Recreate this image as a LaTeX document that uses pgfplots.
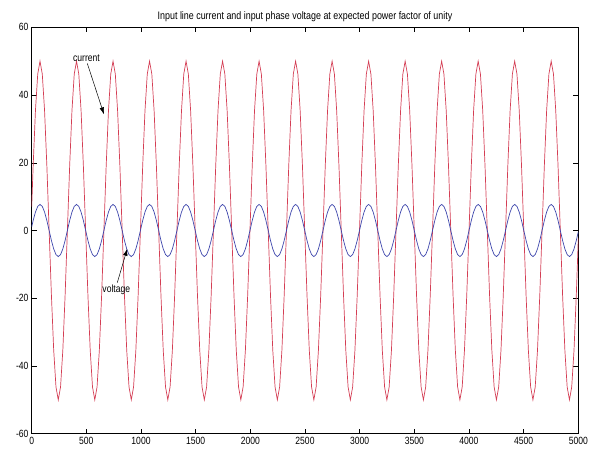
\documentclass[border=0pt]{standalone}
\usepackage{pgfplots}
\pgfplotsset{compat=1.18}
\usepackage{pgfplotstable}
\usepackage{fontspec}
\setmainfont{Liberation Sans}[FakeStretch=0.82]
\usetikzlibrary{arrows.meta}
\definecolor{cur}{RGB}{212,62,84}
\definecolor{vol}{RGB}{62,70,172}

\pgfplotstableread{
x i v
0 7.05 1.08
13.375 19.13 2.95
34.25 35.36 5.44
55.125 46.19 7.11
76 50 7.7
96.875 46.19 7.11
117.75 35.36 5.44
138.625 19.13 2.95
159.5 0 0
180.375 -19.13 -2.95
201.25 -35.36 -5.44
222.125 -46.19 -7.11
243 -50 -7.7
263.875 -46.19 -7.11
284.75 -35.36 -5.44
305.625 -19.13 -2.95
326.5 0 0
347.375 19.13 2.95
368.25 35.36 5.44
389.125 46.19 7.11
410 50 7.7
430.875 46.19 7.11
451.75 35.36 5.44
472.625 19.13 2.95
493.5 0 0
514.375 -19.13 -2.95
535.25 -35.36 -5.44
556.125 -46.19 -7.11
577 -50 -7.7
597.875 -46.19 -7.11
618.75 -35.36 -5.44
639.625 -19.13 -2.95
660.5 0 0
681.375 19.13 2.95
702.25 35.36 5.44
723.125 46.19 7.11
744 50 7.7
764.875 46.19 7.11
785.75 35.36 5.44
806.625 19.13 2.95
827.5 0 0
848.375 -19.13 -2.95
869.25 -35.36 -5.44
890.125 -46.19 -7.11
911 -50 -7.7
931.875 -46.19 -7.11
952.75 -35.36 -5.44
973.625 -19.13 -2.95
994.5 0 0
1015.375 19.13 2.95
1036.25 35.36 5.44
1057.125 46.19 7.11
1078 50 7.7
1098.875 46.19 7.11
1119.75 35.36 5.44
1140.625 19.13 2.95
1161.5 0 0
1182.375 -19.13 -2.95
1203.25 -35.36 -5.44
1224.125 -46.19 -7.11
1245 -50 -7.7
1265.875 -46.19 -7.11
1286.75 -35.36 -5.44
1307.625 -19.13 -2.95
1328.5 0 0
1349.375 19.13 2.95
1370.25 35.36 5.44
1391.125 46.19 7.11
1412 50 7.7
1432.875 46.19 7.11
1453.75 35.36 5.44
1474.625 19.13 2.95
1495.5 0 0
1516.375 -19.13 -2.95
1537.25 -35.36 -5.44
1558.125 -46.19 -7.11
1579 -50 -7.7
1599.875 -46.19 -7.11
1620.75 -35.36 -5.44
1641.625 -19.13 -2.95
1662.5 0 0
1683.375 19.13 2.95
1704.25 35.36 5.44
1725.125 46.19 7.11
1746 50 7.7
1766.875 46.19 7.11
1787.75 35.36 5.44
1808.625 19.13 2.95
1829.5 0 0
1850.375 -19.13 -2.95
1871.25 -35.36 -5.44
1892.125 -46.19 -7.11
1913 -50 -7.7
1933.875 -46.19 -7.11
1954.75 -35.36 -5.44
1975.625 -19.13 -2.95
1996.5 0 0
2017.375 19.13 2.95
2038.25 35.36 5.44
2059.125 46.19 7.11
2080 50 7.7
2100.875 46.19 7.11
2121.75 35.36 5.44
2142.625 19.13 2.95
2163.5 0 0
2184.375 -19.13 -2.95
2205.25 -35.36 -5.44
2226.125 -46.19 -7.11
2247 -50 -7.7
2267.875 -46.19 -7.11
2288.75 -35.36 -5.44
2309.625 -19.13 -2.95
2330.5 0 0
2351.375 19.13 2.95
2372.25 35.36 5.44
2393.125 46.19 7.11
2414 50 7.7
2434.875 46.19 7.11
2455.75 35.36 5.44
2476.625 19.13 2.95
2497.5 0 0
2518.375 -19.13 -2.95
2539.25 -35.36 -5.44
2560.125 -46.19 -7.11
2581 -50 -7.7
2601.875 -46.19 -7.11
2622.75 -35.36 -5.44
2643.625 -19.13 -2.95
2664.5 0 0
2685.375 19.13 2.95
2706.25 35.36 5.44
2727.125 46.19 7.11
2748 50 7.7
2768.875 46.19 7.11
2789.75 35.36 5.44
2810.625 19.13 2.95
2831.5 0 0
2852.375 -19.13 -2.95
2873.25 -35.36 -5.44
2894.125 -46.19 -7.11
2915 -50 -7.7
2935.875 -46.19 -7.11
2956.75 -35.36 -5.44
2977.625 -19.13 -2.95
2998.5 0 0
3019.375 19.13 2.95
3040.25 35.36 5.44
3061.125 46.19 7.11
3082 50 7.7
3102.875 46.19 7.11
3123.75 35.36 5.44
3144.625 19.13 2.95
3165.5 0 0
3186.375 -19.13 -2.95
3207.25 -35.36 -5.44
3228.125 -46.19 -7.11
3249 -50 -7.7
3269.875 -46.19 -7.11
3290.75 -35.36 -5.44
3311.625 -19.13 -2.95
3332.5 0 0
3353.375 19.13 2.95
3374.25 35.36 5.44
3395.125 46.19 7.11
3416 50 7.7
3436.875 46.19 7.11
3457.75 35.36 5.44
3478.625 19.13 2.95
3499.5 0 0
3520.375 -19.13 -2.95
3541.25 -35.36 -5.44
3562.125 -46.19 -7.11
3583 -50 -7.7
3603.875 -46.19 -7.11
3624.75 -35.36 -5.44
3645.625 -19.13 -2.95
3666.5 0 0
3687.375 19.13 2.95
3708.25 35.36 5.44
3729.125 46.19 7.11
3750 50 7.7
3770.875 46.19 7.11
3791.75 35.36 5.44
3812.625 19.13 2.95
3833.5 0 0
3854.375 -19.13 -2.95
3875.25 -35.36 -5.44
3896.125 -46.19 -7.11
3917 -50 -7.7
3937.875 -46.19 -7.11
3958.75 -35.36 -5.44
3979.625 -19.13 -2.95
4000.5 0 0
4021.375 19.13 2.95
4042.25 35.36 5.44
4063.125 46.19 7.11
4084 50 7.7
4104.875 46.19 7.11
4125.75 35.36 5.44
4146.625 19.13 2.95
4167.5 0 0
4188.375 -19.13 -2.95
4209.25 -35.36 -5.44
4230.125 -46.19 -7.11
4251 -50 -7.7
4271.875 -46.19 -7.11
4292.75 -35.36 -5.44
4313.625 -19.13 -2.95
4334.5 0 0
4355.375 19.13 2.95
4376.25 35.36 5.44
4397.125 46.19 7.11
4418 50 7.7
4438.875 46.19 7.11
4459.75 35.36 5.44
4480.625 19.13 2.95
4501.5 0 0
4522.375 -19.13 -2.95
4543.25 -35.36 -5.44
4564.125 -46.19 -7.11
4585 -50 -7.7
4605.875 -46.19 -7.11
4626.75 -35.36 -5.44
4647.625 -19.13 -2.95
4668.5 0 0
4689.375 19.13 2.95
4710.25 35.36 5.44
4731.125 46.19 7.11
4752 50 7.7
4772.875 46.19 7.11
4793.75 35.36 5.44
4814.625 19.13 2.95
4835.5 0 0
4856.375 -19.13 -2.95
4877.25 -35.36 -5.44
4898.125 -46.19 -7.11
4919 -50 -7.7
4939.875 -46.19 -7.11
4960.75 -35.36 -5.44
4981.625 -19.13 -2.95
5000 -2.36 -0.36
}\wavedata

\begin{document}
\begin{tikzpicture}
\begin{axis}[
  name=ax,
  scale only axis,
  width=546.6bp, height=406.4bp,
  xmin=0, xmax=5000, ymin=-60, ymax=60,
  xtick={0,500,...,5000},
  xticklabels={0,500,1000,1500,2000,2500,3000,3500,4000,4500,5000},
  ytick={-60,-40,...,60},
  yticklabels={-60,-40,-20,0,20,40,60},
  tick align=inside,
  major tick length=5bp,
  tick style={black, line width=0.5bp},
  axis line style={line width=0.6bp},
  ticklabel style={font=\fontsize{10.5}{12}\selectfont},
  yticklabel style={xshift=0.3bp},
  scaled ticks=false,
  clip=true,
]
\addplot[cur, line width=0.7bp] table[x=x, y=i] {\wavedata};
\addplot[vol, line width=0.7bp] table[x=x, y=v] {\wavedata};
\node[font=\fontsize{10.5}{12}\selectfont] at (axis cs:501,51) {current};
\draw[-{Latex[length=7bp,width=4.5bp]}, line width=0.5bp] (axis cs:509,49.3) -- (axis cs:661,34.3);
\node[font=\fontsize{10.5}{12}\selectfont] at (axis cs:774,-17.6) {voltage};
\draw[-{Latex[length=7bp,width=4.5bp]}, line width=0.5bp] (axis cs:783,-15.4) -- (axis cs:874,-5.4);
\end{axis}
\node[anchor=base, font=\fontsize{10.9}{12}\selectfont] at ([yshift=7.8bp]ax.north) {Input line current and input phase voltage at expected power factor of unity};
\pgfresetboundingbox
\path[use as bounding box] ([xshift=-31.7bp,yshift=-18.3bp]ax.south west) rectangle ([xshift=14.7bp,yshift=27.3bp]ax.north east);
\end{tikzpicture}
\end{document}
